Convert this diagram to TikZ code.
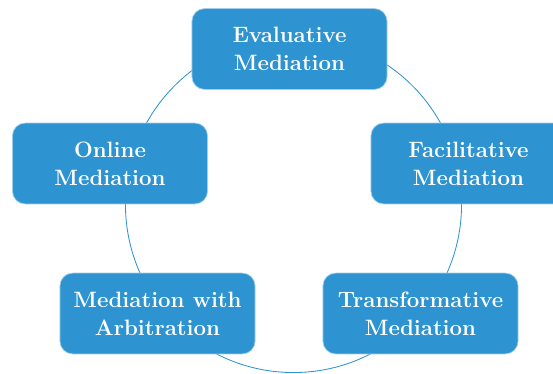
\documentclass[tikz,border=0pt]{standalone}
\usetikzlibrary{positioning}
\definecolor{medblue}{RGB}{46,147,209}

\begin{document}
\begin{tikzpicture}[x=0.025cm, y=-0.025cm,
  box/.style={rectangle, rounded corners=9pt, draw=white!55!medblue, line width=0.5pt,
              fill=medblue, minimum width=4.875cm, minimum height=2.02cm, inner sep=2pt,
              align=center, text=white, font=\fontsize{15.8}{20}\selectfont\bfseries},
  ring/.style={draw=medblue, line width=0.6pt},
]
\clip (0,0) rectangle (553,374);
% ---------- ring behind the boxes ----------
\coordinate (hub) at (293.5,204.5);
\draw[ring] (hub) circle (4.2cm);
% ---------- mediation types ----------
\node[box] (eval)  at (289.5, 49)  {Evaluative\\Mediation};
\node[box] (onl)   at (110, 163.5) {Online\\Mediation};
\node[box] (fac)   at (468.5,163.5) {Facilitative\\Mediation};
\node[box] (arb)   at (157.5,313.5) {Mediation with\\Arbitration};
\node[box] (trans) at (420.5,313.5) {Transformative\\Mediation};
\end{tikzpicture}
\end{document}
